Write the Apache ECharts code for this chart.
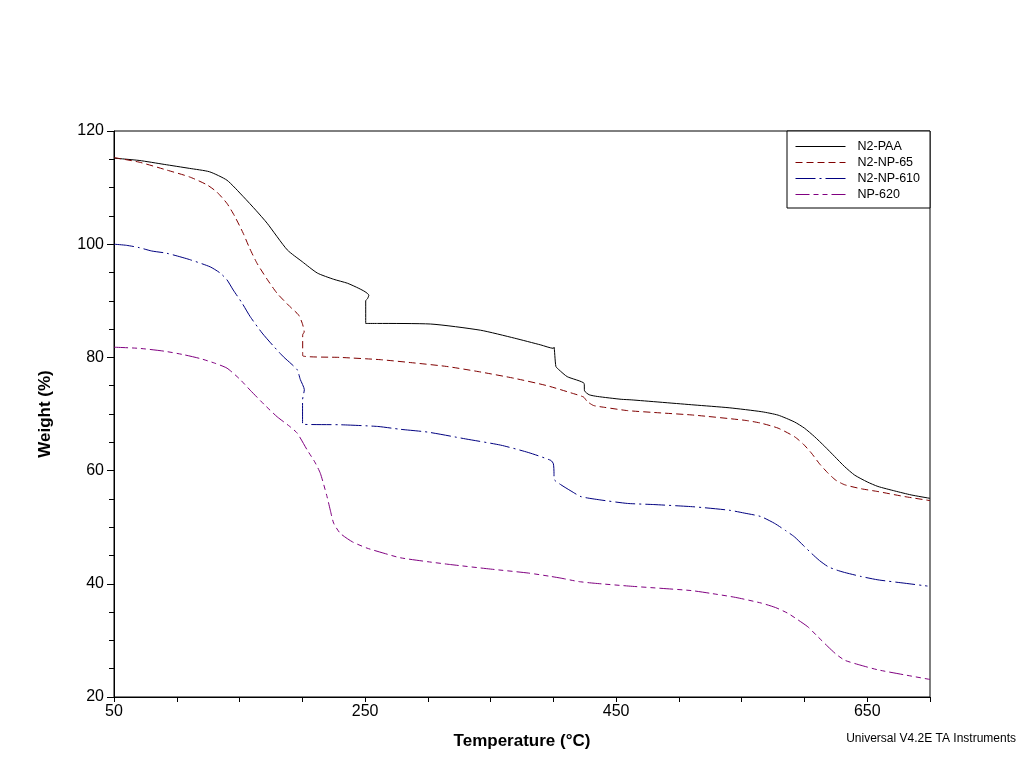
<!DOCTYPE html>
<html>
<head>
<meta charset="utf-8">
<script src="https://cdn.jsdelivr.net/npm/echarts@6/dist/echarts.min.js"></script>
<style>html,body{margin:0;padding:0;background:#fff}#c{width:1024px;height:768px}</style>
</head>
<body>
<div id="c"></div>
<script>
var seriesNames = ['N2-PAA', 'N2-NP-65', 'N2-NP-610', 'NP-620'];

var paaT = [50,70,90,110,126,140,153,163,172,188,200,212,225,236,245,250,253,252,250.5,250.5,260,302,342,369,390,400,400.5,402,404.5,411,424.5,424.8,428.5,435,454,462,512,540,566,579,592,600,608,616,624,632,640,650,658.5,672,685,700];
var paaW = [115.2,114.8,114.1,113.4,112.8,111.3,108.4,106,103.7,99,96.9,94.9,93.8,93.1,92.2,91.6,91.0,90.4,90.0,86.0,86.0,85.9,84.8,83.4,82.2,81.6,81.8,78.4,77.8,76.6,75.4,74.1,73.4,73.1,72.6,72.5,71.6,71.1,70.4,69.8,68.6,67.5,66,64.3,62.5,60.7,59.2,58,57.2,56.4,55.7,55.1];

var np65T = [50,70,92,110,124,132,140,146,153,158,164,172,180,190,197,200,201.5,200.3,200.3,230,262,290,315,340,369,395,416,424,427,432,440,459,485,512,552,565,579,592,599,605.5,612,619,625,632,645,658.5,680,700];
var np65W = [115.3,114.5,113.1,111.9,110.5,109.2,107.2,105,101.9,99.3,96.6,93.8,91.3,89,87.5,86,84.5,84,80.3,80,79.6,79,78.4,77.5,76.3,75,73.6,73,72.2,71.5,71.2,70.6,70.2,69.8,68.9,68.4,67.5,66,64.7,63.1,61.2,59.5,58.3,57.5,56.8,56.3,55.4,54.7];

var np610T = [50,60,70,80,92,110,126.6,134.6,140,145,152,158.5,168,177,185,191,196,198.4,201.6,200.2,200.2,230,260,278,300,330,358,380,398,400,400.5,400.5,406,414,422,438,459,480,512,540,552,565,576,585,592,599,605.5,612,619,626,632,645,658.5,680,698];
var np610W = [100,99.8,99.4,98.8,98.4,97.3,96,94.9,93.7,91.9,89.6,87.2,84.3,82,80.1,78.9,77.8,76.1,74.3,72.5,68.2,68.1,67.8,67.3,66.8,65.6,64.5,63.2,61.8,61.2,59.5,58.5,57.5,56.4,55.4,54.8,54.2,54,53.6,53,52.5,51.9,50.7,49.4,48.3,46.8,45.4,44.1,43,42.4,42,41.3,40.7,40.1,39.6];

var np620T = [50,70,90,105,118.6,130,140,150,158.5,170,180,190,196,204,210,214.4,219.7,222.3,225,230.3,240,251.6,265,278,300,318,350,380,398,406,420,432.5,460,485.7,510,525.6,545,565.5,577,586.7,595,602.7,610,618.7,625,632,645,658.5,680,700];
var np620W = [81.8,81.6,81.1,80.5,79.8,79,78.1,76.2,74.2,71.6,69.5,67.8,66.6,63.6,61.5,59.5,55.4,53,50.7,48.9,47.4,46.3,45.4,44.6,43.9,43.4,42.6,41.9,41.3,41,40.4,40.1,39.6,39.2,38.8,38.3,37.6,36.6,35.8,34.8,33.6,32.4,30.8,28.9,27.6,26.5,25.6,24.8,23.9,23.1];

var xLabelValues = [50, 250, 450, 650];

function zip(a, b) { return a.map(function (v, i) { return [v, b[i]]; }); }

var colors = ['#000000', '#800000', '#000080', '#800080'];
var dashes = ['solid', [7, 4], [20, 4, 2, 4], [14, 4, 5, 4, 5, 4]];
var datas = [zip(paaT, paaW), zip(np65T, np65W), zip(np610T, np610W), zip(np620T, np620W)];

var font = 'Liberation Sans, Arial, sans-serif';

var chart = echarts.init(document.getElementById('c'), null, { renderer: 'canvas' });
chart.setOption({
  animation: false,
  backgroundColor: '#ffffff',
  grid: { left: 114, right: 94, top: 131, bottom: 71, show: true, borderColor: '#000', borderWidth: 1, backgroundColor: 'transparent' },
  legend: {
    orient: 'vertical', left: 787, top: 131,
    padding: [9, 10, 7, 8],
    itemWidth: 50, itemHeight: 14, itemGap: 3,
    borderColor: '#000', borderWidth: 1, backgroundColor: '#fff',
    itemStyle: { opacity: 0 },
    lineStyle: { width: 1 },
    textStyle: { fontFamily: font, fontSize: 12.5, color: '#000', padding: [0, 0, 0, 7] },
    data: seriesNames
  },
  xAxis: {
    type: 'value', min: 50, max: 700, interval: 50,
    name: 'Temperature (°C)', nameLocation: 'middle', nameGap: 36,
    nameTextStyle: { fontFamily: font, fontSize: 17, fontWeight: 'bold', color: '#000' },
    axisLine: { show: true, lineStyle: { color: '#000', width: 1 } },
    axisTick: { show: true, length: 5, lineStyle: { color: '#000' } },
    axisLabel: {
      fontFamily: font, fontSize: 16, color: '#000', margin: 7,
      formatter: function (v) { return xLabelValues.indexOf(v) >= 0 ? String(v) : ''; }
    },
    splitLine: { show: false }
  },
  yAxis: {
    type: 'value', min: 20, max: 120, interval: 20,
    name: 'Weight (%)', nameLocation: 'middle', nameGap: 60, nameRotate: 90,
    nameTextStyle: { fontFamily: font, fontSize: 17, fontWeight: 'bold', color: '#000' },
    axisLine: { show: true, lineStyle: { color: '#000', width: 1 } },
    axisTick: { show: true, length: 7, lineStyle: { color: '#000' } },
    minorTick: { show: true, splitNumber: 4, length: 5, lineStyle: { color: '#000' } },
    axisLabel: { fontFamily: font, fontSize: 16, color: '#000', margin: 10 },
    splitLine: { show: false }
  },
  graphic: [{
    type: 'text', right: 8, top: 733,
    style: { text: 'Universal V4.2E TA Instruments', font: '12px ' + font, fill: '#000' }
  }],
  series: seriesNames.map(function (n, i) {
    return {
      name: n, type: 'line', data: datas[i], symbol: 'none', smooth: 0.2,
      lineStyle: { color: colors[i], width: 1, type: dashes[i] },
      itemStyle: { color: colors[i] }
    };
  })
});
</script>
</body>
</html>
